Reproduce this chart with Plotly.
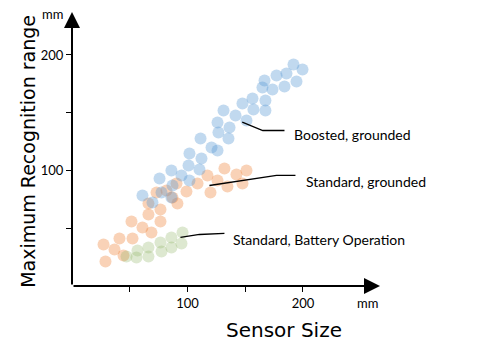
import plotly.graph_objects as go

# ---- data (mm) ----
boosted_x = [191.8, 199.6, 185.7, 177.1, 166.7, 194.4, 184.0, 173.6, 164.9, 156.3,
             167.5, 147.6, 157.1, 167.5, 131.2, 141.6, 151.1, 126.0, 136.4, 126.8,
             135.5, 111.3, 120.8, 126.0, 101.7, 112.1, 100.9, 110.4, 86.1, 94.8,
             75.8, 87.0, 101.7, 61.0, 69.7, 86.1, 77.5]
boosted_y = [191.8, 187.4, 184.0, 182.3, 177.9, 177.1, 172.7, 170.1, 171.9, 162.3,
             160.6, 158.0, 152.8, 151.9, 151.9, 147.6, 143.3, 141.6, 137.2, 132.9,
             127.7, 127.7, 119.9, 117.3, 114.7, 110.4, 104.3, 100.9, 100.0, 95.7,
             93.1, 87.0, 91.3, 78.4, 72.3, 76.6, 80.9]

standard_x = [27.3, 29.0, 36.8, 41.1, 44.6, 52.4, 51.5, 61.0, 68.8, 66.2,
              66.2, 76.6, 76.6, 73.2, 87.0, 91.3, 90.5, 99.1, 108.7, 117.3,
              119.9, 126.0, 132.0, 134.6, 142.4, 147.6, 151.1, 81.8]
standard_y = [35.9, 21.2, 31.6, 41.1, 26.4, 41.1, 55.8, 50.6, 46.3, 71.4,
              61.9, 66.2, 55.8, 81.0, 76.6, 71.4, 88.7, 81.8, 88.7, 95.7,
              81.0, 91.3, 101.7, 86.1, 96.5, 88.7, 100.0, 82.7]

battery_x = [47.2, 55.8, 56.7, 66.2, 66.2, 76.6, 77.5, 86.1, 86.1, 95.7, 94.8]
battery_y = [25.5, 24.7, 30.7, 33.3, 25.5, 37.7, 29.9, 42.0, 33.3, 46.3, 36.8]

tick_vals = [50, 100, 150, 200]
tick_text = ["", "100", "", "200"]

labels = ["Boosted, grounded", "Standard, grounded", "Standard, Battery Operation"]

X_MAX = 266.7
Y_MAX = 237.2

fig = go.Figure()
marker_common = dict(size=12, line=dict(width=0))
fig.add_trace(go.Scatter(x=standard_x, y=standard_y, mode="markers",
                         marker=dict(color="#ED7D31", opacity=0.35, **marker_common),
                         name=labels[1]))
fig.add_trace(go.Scatter(x=battery_x, y=battery_y, mode="markers",
                         marker=dict(color="#8FB463", opacity=0.3, **marker_common),
                         name=labels[2]))
fig.add_trace(go.Scatter(x=boosted_x, y=boosted_y, mode="markers",
                         marker=dict(color="#5B9BD5", opacity=0.38, **marker_common),
                         name=labels[0]))

font_lbl = dict(family="Lato, Open Sans, sans-serif", size=14, color="black")
font_tick = dict(family="Lato, Open Sans, sans-serif", size=13, color="black")
font_title = dict(family="DejaVu Sans, sans-serif", size=19, color="black")

annotations = [
    # axis arrows
    dict(x=X_MAX, y=0, ax=0, ay=0, xref="x", yref="y", axref="x", ayref="y",
         showarrow=True, arrowhead=2, arrowsize=1.6, arrowwidth=2, arrowcolor="black", text=""),
    dict(x=0, y=Y_MAX, ax=0, ay=0, xref="x", yref="y", axref="x", ayref="y",
         showarrow=True, arrowhead=2, arrowsize=1.6, arrowwidth=2, arrowcolor="black", text=""),
    # units
    dict(x=0.961, y=-0.062, xref="paper", yref="paper", text="mm", showarrow=False,
         font=font_tick, xanchor="center", yanchor="middle"),
    dict(x=-0.023, y=0.993, xref="paper", yref="paper", text="mm", showarrow=False,
         font=font_tick, xanchor="right", yanchor="middle"),
    # axis titles
    dict(x=0.688, y=-0.161, xref="paper", yref="paper", text="Sensor Size", showarrow=False,
         font=dict(family="DejaVu Sans, sans-serif", size=20, color="black"),
         xanchor="center", yanchor="middle"),
    dict(x=-0.143, y=0.493, xref="paper", yref="paper", text="Maximum Recognition range",
         showarrow=False, font=font_title, textangle=-90, xanchor="center", yanchor="middle"),
    # series labels
    dict(x=190.9, y=131.2, xref="x", yref="y", text=labels[0], showarrow=False,
         font=font_lbl, xanchor="left", yanchor="middle"),
    dict(x=201.3, y=90.5, xref="x", yref="y", text=labels[1], showarrow=False,
         font=font_lbl, xanchor="left", yanchor="middle"),
    dict(x=138.1, y=40.3, xref="x", yref="y", text=labels[2], showarrow=False,
         font=font_lbl, xanchor="left", yanchor="middle"),
]

shapes = [
    dict(type="path", xref="x", yref="y", path="M147.4,141.8 L165.2,134.6 L184.0,134.6",
         line=dict(color="black", width=1.3)),
    dict(type="path", xref="x", yref="y", path="M119.0,87.0 L177.1,95.7 L193.5,95.7",
         line=dict(color="black", width=1.3)),
    dict(type="path", xref="x", yref="y", path="M93.9,42.0 L110.4,44.6 L132.0,45.5",
         line=dict(color="black", width=1.3)),
]

fig.update_layout(
    width=500, height=348,
    margin=dict(l=72, r=120, t=12, b=62),
    paper_bgcolor="white", plot_bgcolor="white",
    showlegend=False,
    annotations=annotations,
    shapes=shapes,
    xaxis=dict(range=[0, X_MAX], showgrid=False, zeroline=False, showline=False,
               tickvals=tick_vals, ticktext=tick_text, ticks="outside", ticklen=5,
               tickwidth=1.2, tickcolor="black", tickfont=font_tick, fixedrange=True),
    yaxis=dict(range=[0, Y_MAX], showgrid=False, zeroline=False, showline=False,
               tickvals=tick_vals, ticktext=tick_text, ticks="outside", ticklen=5,
               tickwidth=1.2, tickcolor="black", tickfont=font_tick, fixedrange=True),
)

fig.write_html("out.html")
